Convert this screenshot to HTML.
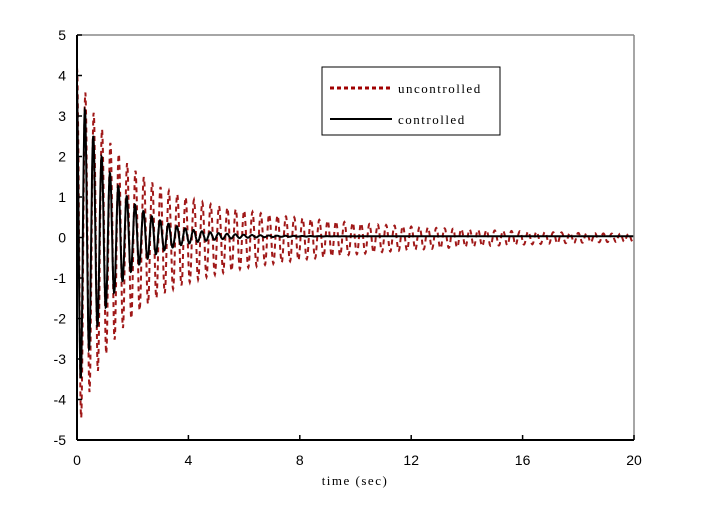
<!DOCTYPE html>
<html><head><style>
html,body{margin:0;padding:0;background:#fff;}
svg text{font-family:"Liberation Sans",sans-serif;}
</style></head><body>
<svg id="s" width="705" height="500" xmlns="http://www.w3.org/2000/svg">
<rect x="0" y="0" width="705" height="500" fill="#fff"/>
<g id="data"></g>
<line x1="77" y1="35" x2="634" y2="35" stroke="#888" stroke-width="1.5"/>
<line x1="634" y1="35" x2="634" y2="440" stroke="#888" stroke-width="1.5"/>
<line x1="77" y1="35" x2="77" y2="440" stroke="#000" stroke-width="2"/>
<line x1="77" y1="440" x2="634" y2="440" stroke="#000" stroke-width="2"/>
<g id="ticks" stroke="#000" stroke-width="1.5"></g>
<g id="labels" font-size="14" fill="#000"></g>
<rect x="322" y="67" width="178" height="68" fill="#fff" stroke="#000" stroke-width="1"/>
<line x1="330" y1="88" x2="392" y2="88" stroke="#a00000" stroke-width="3" stroke-dasharray="4,3"/>
<line x1="330" y1="119" x2="392" y2="119" stroke="#000" stroke-width="2"/>
<text x="398" y="93" font-size="13" letter-spacing="1.5" style="font-family:'Liberation Serif',serif">uncontrolled</text>
<text x="398" y="124" font-size="13" letter-spacing="1.5" style="font-family:'Liberation Serif',serif">controlled</text>
<text x="355" y="485" font-size="13" letter-spacing="1.5" text-anchor="middle" style="font-family:'Liberation Serif',serif">time (sec)</text>
</svg>
<script>
var X=function(t){return 77+t*(557/20);},Y=function(v){return 237.5-v*40.5;};
var g=document.getElementById('data'),ns="http://www.w3.org/2000/svg";
function poly(pts,attrs){var p=document.createElementNS(ns,'polyline');p.setAttribute('points',pts.join(' '));p.setAttribute('fill','none');for(var k in attrs)p.setAttribute(k,attrs[k]);g.appendChild(p);}
var a=[],b=[];
for(var t=0;t<=20;t+=0.01){
 var e=2.7*Math.exp(-t/1.3)+1.5*Math.exp(-t/7);
 var v=e*Math.cos(2*Math.PI*t/0.3);
 if(v<0)v*=1.15;
 a.push(X(t).toFixed(1)+','+Y(v).toFixed(1));
 var e2=3.9*Math.exp(-t/1.3);
 var w=e2*Math.cos(2*Math.PI*(t)/0.3+0.3)+0.03;
 b.push(X(t).toFixed(1)+','+Y(w).toFixed(1));
}
poly(a,{stroke:'#a01818','stroke-width':'2','stroke-dasharray':'5,4'});
poly(b,{stroke:'#000','stroke-width':'2'});
var tk=document.getElementById('ticks'),lb=document.getElementById('labels');
for(var i=-5;i<=5;i++){
 var y=Y(i);
 var l=document.createElementNS(ns,'line');l.setAttribute('x1',77);l.setAttribute('x2',82);l.setAttribute('y1',y);l.setAttribute('y2',y);tk.appendChild(l);
 var tx=document.createElementNS(ns,'text');tx.setAttribute('x',66);tx.setAttribute('y',y+5);tx.setAttribute('text-anchor','end');tx.textContent=i;lb.appendChild(tx);
}
for(var j=0;j<=20;j+=4){
 var x=X(j);
 var l=document.createElementNS(ns,'line');l.setAttribute('x1',x);l.setAttribute('x2',x);l.setAttribute('y1',435);l.setAttribute('y2',440);tk.appendChild(l);
 var tx=document.createElementNS(ns,'text');tx.setAttribute('x',x);tx.setAttribute('y',465);tx.setAttribute('text-anchor','middle');tx.textContent=j;lb.appendChild(tx);
}
</script>
</body></html>
